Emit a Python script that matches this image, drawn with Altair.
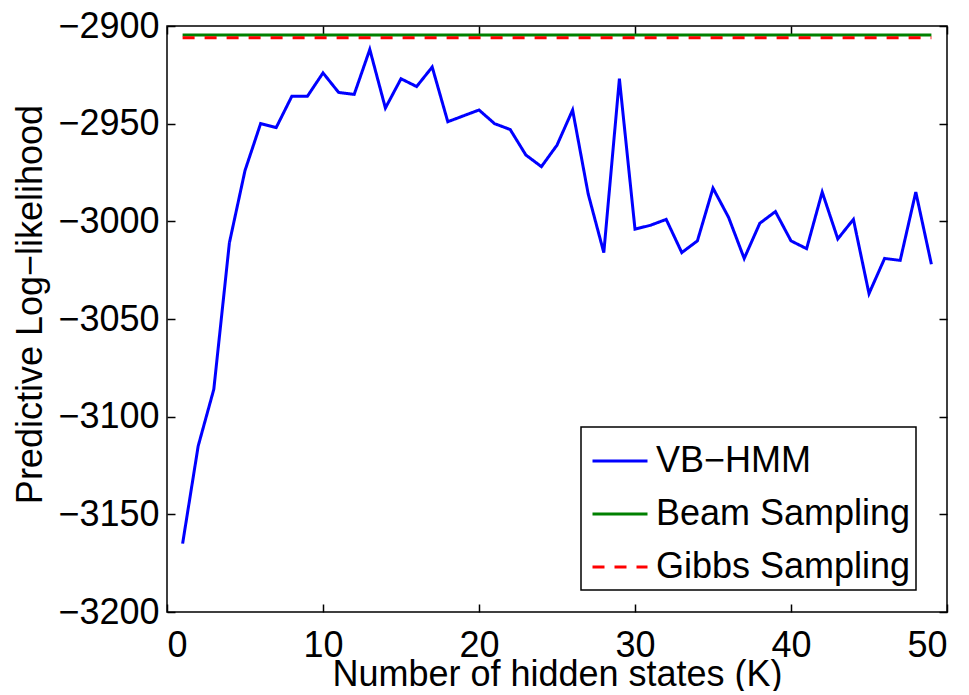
import altair as alt
import pandas as pd

K = list(range(1, 50))
vb_hmm = [-3165, -3115, -3086, -3011, -2974, -2950, -2952, -2936, -2936, -2924,
          -2934, -2935, -2912, -2942, -2927, -2931, -2921, -2949, -2946, -2943,
          -2950, -2953, -2966, -2972, -2961, -2943, -2986, -3016, -2927, -3004,
          -3002, -2999, -3016, -3010, -2983, -2998, -3019, -3001, -2995, -3010,
          -3014, -2985, -3009, -2999, -3037, -3019, -3020, -2985, -3022]
flat_K = [1, 49]
beam = [-2904.6, -2904.6]
gibbs = [-2906.0, -2906.0]

series_names = ["VB\u2212HMM", "Beam Sampling", "Gibbs Sampling"]
colors = ["#0000ff", "#008000", "#ff0000"]

rows = []
for k, v in zip(K, vb_hmm):
    rows.append({"K": k, "value": v, "series": series_names[0]})
for k, v in zip(flat_K, beam):
    rows.append({"K": k, "value": v, "series": series_names[1]})
for k, v in zip(flat_K, gibbs):
    rows.append({"K": k, "value": v, "series": series_names[2]})
df = pd.DataFrame(rows)

FONT = "Liberation Sans"
FS = 36

xticks = [0, 10, 20, 30, 40, 50]
yticks = [-3200, -3150, -3100, -3050, -3000, -2950, -2900]

xscale = alt.Scale(domain=[0, 50], nice=False)
yscale = alt.Scale(domain=[-3200, -2900], nice=False, zero=False)

common_axis = dict(grid=False, domain=False, tickSize=8, offset=-8,
                   tickColor="black", tickWidth=1.5, format="d")

legend_opts = dict(title=None, orient="none", legendX=414, legendY=401,
                   labelExpr="datum.label + '\u00a0'")

main = alt.Chart(df).mark_line(strokeWidth=3, clip=True).encode(
    x=alt.X("K:Q", scale=xscale,
            axis=alt.Axis(orient="bottom", values=xticks,
                          title="Number of hidden states (K)",
                          labelPadding=16, titlePadding=-6,
                          **common_axis)),
    y=alt.Y("value:Q", scale=yscale,
            axis=alt.Axis(orient="left", values=yticks,
                          title="Predictive Log\u2212likelihood",
                          labelPadding=8, titlePadding=8, titleY=278,
                          **common_axis)),
    color=alt.Color("series:N",
                    scale=alt.Scale(domain=series_names, range=colors),
                    legend=alt.Legend(**legend_opts)),
    strokeDash=alt.StrokeDash("series:N",
                              scale=alt.Scale(domain=series_names,
                                              range=[[1, 0], [1, 0], [12, 10]]),
                              legend=alt.Legend(**legend_opts)),
    order=alt.Order("K:Q"),
)

frame = alt.Chart(df).mark_line(opacity=0).encode(
    x=alt.X("K:Q", scale=xscale,
            axis=alt.Axis(orient="top", values=xticks,
                          labels=False, title=None, **common_axis)),
    y=alt.Y("value:Q", scale=yscale,
            axis=alt.Axis(orient="right", values=yticks,
                          labels=False, title=None, **common_axis)),
    detail="series:N",
)

chart = alt.layer(main, frame).resolve_axis(
    x="independent", y="independent"
).properties(
    width=780, height=586,
    autosize=alt.AutoSizeParams(type="none"),
    padding={"left": 159, "top": 18, "right": 14, "bottom": 79},
).configure_view(
    stroke="black", strokeWidth=1.5
).configure_axis(
    labelFont=FONT, labelFontSize=FS, labelColor="black",
    titleFont=FONT, titleFontSize=FS, titleFontWeight="normal", titleColor="black",
).configure_legend(
    labelFont=FONT, labelFontSize=FS, labelColor="black",
    fillColor="white", strokeColor="black", strokeWidth=1.5,
    padding=5, symbolSize=3025, symbolStrokeWidth=3, symbolType="stroke",
    symbolOffset=5, labelOffset=7, rowPadding=6, labelLimit=400,
)

chart.save("out.html", embed_options={"renderer": "svg", "actions": False})
